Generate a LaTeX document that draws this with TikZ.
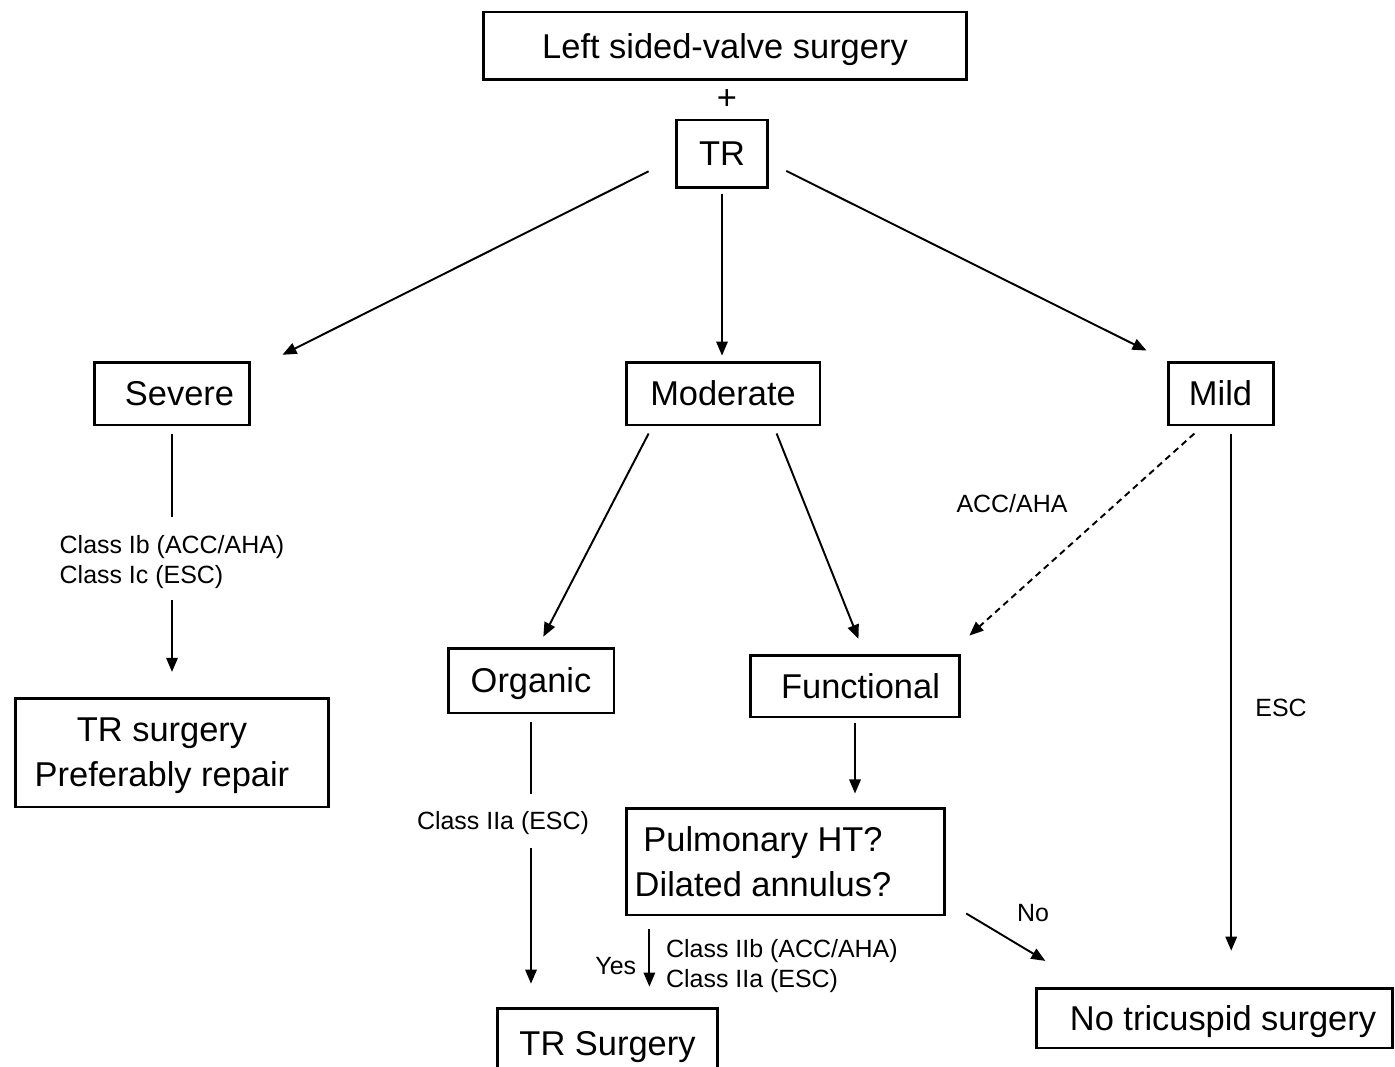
\documentclass[tikz,border=0pt]{standalone}
\usepackage{fontspec}
\setmainfont{Liberation Sans}
\usetikzlibrary{arrows.meta}
\tikzset{
  box/.style={draw, line width=1.7pt, inner sep=0pt, text depth=0pt, font=\fontsize{19.6}{25.5}\selectfont},
  note/.style={inner sep=0pt, font=\fontsize{14.2}{17.6}\selectfont},
  flow/.style={-{Triangle[length=8pt, width=6.5pt]}, line width=1.1pt},
  link/.style={line width=1.1pt},
  optional/.style={flow, dash pattern=on 3.6pt off 2.6pt}
}
\begin{document}
\begin{tikzpicture}[x=0.02cm, y=-0.02cm]
  \useasboundingbox (0,0) rectangle (1395,1067);
  \clip (0,0) rectangle (1395,1067);

  % boxes
  \node[box, minimum width=9.68cm, minimum height=1.36cm] (lsvs) at (725,46) {Left sided-valve surgery};
  \node[font=\fontsize{19.6}{25.5}\selectfont, inner sep=0pt] (plus) at (727,100) {+};
  \node[box, minimum width=1.82cm, minimum height=1.36cm] (tr) at (722,154) {TR};
  \node[box, minimum width=3.1cm, minimum height=1.26cm] (severe) at (172,393.5) {\hspace*{0.3cm}Severe};
  \node[box, minimum width=3.88cm, minimum height=1.26cm] (moderate) at (723,393.5) {Moderate};
  \node[box, minimum width=2.1cm, minimum height=1.26cm] (mild) at (1220.5,393.5) {Mild};
  \node[box, minimum width=6.28cm, minimum height=2.18cm, align=center] (trsurg) at (172,752.5)
    {TR surgery\hspace*{0.4cm}\\Preferably repair\hspace*{0.4cm}};
  \node[box, minimum width=3.32cm, minimum height=1.3cm] (organic) at (531,680.5) {Organic};
  \node[box, minimum width=4.18cm, minimum height=1.24cm] (functional) at (855,686) {\hspace*{0.22cm}Functional};
  \node[box, minimum width=6.38cm, minimum height=2.14cm, align=center] (pulm) at (785.5,861.5)
    {Pulmonary HT?\hspace*{0.9cm}\\Dilated annulus?\hspace*{0.9cm}};
  \node[box, minimum width=4.42cm, minimum height=1.4cm] (trsurgery) at (607.5,1043) {TR Surgery};
  \node[box, minimum width=7.14cm, minimum height=1.2cm] (notri) at (1214.5,1018) {\hspace*{0.34cm}No tricuspid surgery};

  % labels
  \node[note, align=left] (lblsev) at (172,562) {Class Ib (ACC/AHA)\\Class Ic (ESC)};
  \node[note] (lblorg) at (503,823) {Class IIa (ESC)};
  \node[note] (lblacc) at (1012,504) {ACC/AHA};
  \node[note] (lblesc) at (1281,708) {ESC};
  \node[note] (lblno) at (1033,913) {No};

  % connectors
  \draw[flow, shorten <=16.8pt, shorten >=7.3pt] (tr.185) -- ([xshift=0.4cm]severe.north east);
  \draw[flow, shorten <=2.3pt, shorten >=2.8pt] (tr.south) -- (tr.south |- moderate.north);
  \draw[flow, shorten <=11pt, shorten >=12.7pt] (tr.-10) -- (mild.north west);
  \draw[link, shorten <=4pt, shorten >=10pt] (severe.south) -- (lblsev.north);
  \draw[flow, shorten <=6pt, shorten >=14pt] (lblsev.south) -- (trsurg.north);
  \draw[flow, shorten <=4.5pt, shorten >=6.3pt] (moderate.205) -- (organic.78);
  \draw[flow, shorten <=4.3pt, shorten >=9pt] (moderate.-33) -- (functional.74);
  \draw[optional, shorten <=6pt, shorten >=15.3pt] (mild.241) -- (functional.19);
  \draw[flow, shorten <=4pt, shorten >=20.4pt] (mild.-72) -- (mild.-72 |- notri.north);
  \draw[link, shorten <=4pt, shorten >=9.6pt] (organic.south) -- (organic.south |- lblorg.north);
  \draw[flow, shorten <=7.4pt, shorten >=13pt] (organic.south |- lblorg.south) -- (organic.south |- trsurgery.north);
  \draw[flow, shorten <=2.8pt, shorten >=7.4pt] (functional.south) -- (functional.south |- pulm.north);
  \draw[flow, shorten <=7.4pt, shorten >=11.3pt] (pulm.202) -- (pulm.202 |- trsurgery.north)
    node[note, pos=0.55, left=7pt] (yes) {Yes}
    node[note, pos=0.55, right=9pt, align=left] (yesnote) {Class IIb (ACC/AHA)\\Class IIa (ESC)};
  \draw[flow, shorten <=13.1pt, shorten >=28.4pt] (pulm.-14) -- (notri.166);
\end{tikzpicture}
\end{document}
